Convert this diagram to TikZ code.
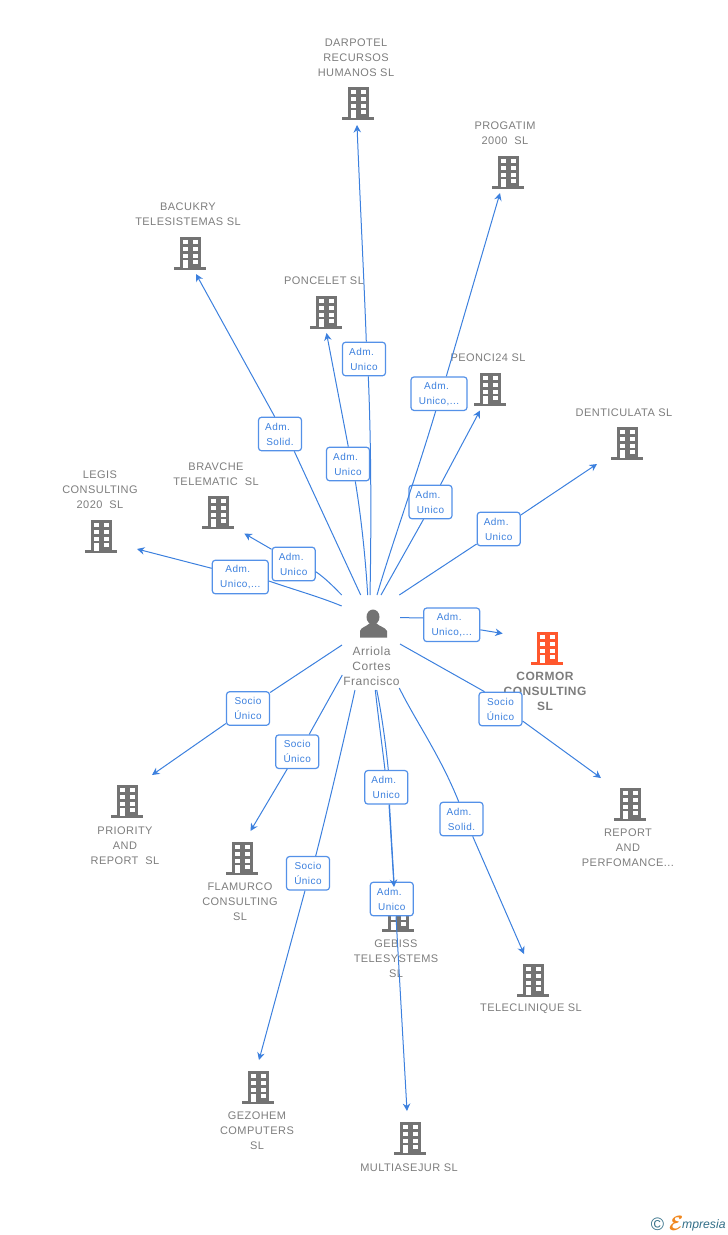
\documentclass[tikz,border=0pt]{standalone}
\usepackage{fontspec}
\setmainfont{Liberation Sans}
\usetikzlibrary{arrows.meta}
\definecolor{linkblue}{RGB}{60,128,222}
\definecolor{boxblue}{RGB}{84,145,232}
\definecolor{icongray}{RGB}{115,115,115}
\definecolor{namegray}{RGB}{125,125,125}
\definecolor{cormorred}{RGB}{255,87,45}
\definecolor{logoteal}{RGB}{50,110,135}
\definecolor{logoorange}{RGB}{240,135,30}
\newcommand{\admline}{\mbox{Adm.\hspace{5pt}}}
\tikzset{
	namelabel/.style={text=namegray, align=center, inner sep=0pt, font=\fontsize{11}{15}\selectfont\addfontfeature{LetterSpace=4}},
	relationbox/.style={rectangle, draw=boxblue, fill=white, line width=1.2pt, rounded corners=3pt, minimum width=43pt, minimum height=33.5pt, inner sep=0pt, align=center, text=linkblue, font=\fontsize{10}{15}\selectfont\addfontfeature{LetterSpace=4.5}},
	widebox/.style={relationbox, minimum width=56pt},
	linkline/.style={draw=linkblue, line width=1pt},
	linkarrow/.style={linkline, -{Stealth[length=7.5pt,width=7.5pt]}},
	buildingicon/.pic={
		\fill[#1] (-10.5,-15.5) rectangle (10.5,15.5);
		\fill[#1] (-16,15) rectangle (16,17.5);
		\fill[white] (-7.5,-12.5) rectangle (-2.5,-8.5);
		\fill[white] (2.5,-12.5) rectangle (7.5,-8.5);
		\fill[white] (-7.5,-5.5) rectangle (-2.5,-1.5);
		\fill[white] (2.5,-5.5) rectangle (7.5,-1.5);
		\fill[white] (-7.5,1.5) rectangle (-2.5,5.5);
		\fill[white] (2.5,1.5) rectangle (7.5,5.5);
		\fill[white] (-7.5,8) rectangle (-2.5,15.5);
		\fill[white] (2.5,8) rectangle (7.5,12);
	}
}

\begin{document}
\begin{tikzpicture}[x=1pt,y=-1pt]
			\useasboundingbox (0,0) rectangle (728,1235);
			% companies
			\pic at (358,102) {buildingicon=icongray};
			\node[namelabel] (darpotel) at (356,58) {DARPOTEL\\RECURSOS\\HUMANOS SL};
			\pic at (508,171) {buildingicon=icongray};
			\node[namelabel] (progatim) at (505,133.5) {PROGATIM\\2000\ \ SL};
			\pic at (190,252) {buildingicon=icongray};
			\node[namelabel] (bacukry) at (188,214.5) {BACUKRY\\TELESISTEMAS SL};
			\pic at (326,311) {buildingicon=icongray};
			\node[namelabel] (poncelet) at (324,281) {PONCELET SL};
			\pic at (490,388) {buildingicon=icongray};
			\node[namelabel] (peonci) at (488,358) {PEONCI24 SL};
			\pic at (627,442) {buildingicon=icongray};
			\node[namelabel] (denticulata) at (624,413) {DENTICULATA SL};
			\pic at (218,511) {buildingicon=icongray};
			\node[namelabel] (bravche) at (216,474.5) {BRAVCHE\\TELEMATIC\ \ SL};
			\pic at (101,535) {buildingicon=icongray};
			\node[namelabel] (legis) at (100,490) {LEGIS\\CONSULTING\\2020\ \ SL};
			\pic at (547,647) {buildingicon=cormorred};
			\node[namelabel, font=\fontsize{12}{15}\selectfont\bfseries\addfontfeature{LetterSpace=4}] (cormor) at (545,691) {CORMOR\\CONSULTING\\SL};
			\pic at (630,803) {buildingicon=icongray};
			\node[namelabel] (report) at (628,848) {REPORT\\AND\\PERFOMANCE...};
			\pic at (127,800) {buildingicon=icongray};
			\node[namelabel] (priority) at (125,846) {PRIORITY\\AND\\REPORT\ \ SL};
			\pic at (242,857) {buildingicon=icongray};
			\node[namelabel] (flamurco) at (240,902) {FLAMURCO\\CONSULTING\\SL};
			\pic at (398,914) {buildingicon=icongray};
			\node[namelabel] (gebiss) at (396,959) {GEBISS\\TELESYSTEMS\\SL};
			\pic at (533,979) {buildingicon=icongray};
			\node[namelabel] (teleclinique) at (531,1009) {TELECLINIQUE SL};
			\pic at (258,1086) {buildingicon=icongray};
			\node[namelabel] (gezohem) at (257,1131) {GEZOHEM\\COMPUTERS\\SL};
			\pic at (410,1137) {buildingicon=icongray};
			\node[namelabel] (multiasejur) at (409,1168) {MULTIASEJUR SL};

			% person
			\fill[icongray] (373,617) ellipse (6.5 and 7.5);
			\fill[icongray] (360,637.5) -- (360,631) .. controls (361,627) and (366,627) .. (370,623) -- (376,623) .. controls (380,627) and (385,627) .. (387,631) -- (387,637.5) -- cycle;
			\node[namelabel, font=\fontsize{12}{15}\selectfont\addfontfeature{LetterSpace=4.5}] (arriola) at (371.5,666.5) {Arriola\\Cortes\\Francisco};

			% relation boxes
			\node[relationbox] (boxdarpotel) at (364,359) {\admline\\Unico};
			\node[widebox] (boxprogatim) at (439,393.7) {\admline\\Unico,...};
			\node[relationbox] (boxbacukry) at (280,434) {\admline\\Solid.};
			\node[relationbox] (boxponcelet) at (348,464) {\admline\\Unico};
			\node[relationbox] (boxpeonci) at (430.5,502) {\admline\\Unico};
			\node[relationbox] (boxdenticulata) at (498.7,529) {\admline\\Unico};
			\node[relationbox] (boxbravche) at (293.7,564) {\admline\\Unico};
			\node[widebox] (boxlegis) at (240.3,577) {\admline\\Unico,...};
			\node[widebox] (boxcormor) at (451.7,624.8) {\admline\\Unico,...};
			\node[relationbox] (boxreport) at (500.5,709) {Socio\\Único};
			\node[relationbox] (boxpriority) at (248,708.5) {Socio\\Único};
			\node[relationbox] (boxflamurco) at (297.2,751.7) {Socio\\Único};
			\node[relationbox] (boxgezohem) at (308,873.3) {Socio\\Único};
			\node[relationbox] (boxgebiss) at (386.3,787.3) {\admline\\Unico};
			\node[relationbox] (boxmulti) at (391.8,899) {\admline\\Unico};
			\node[relationbox] (boxteleclinique) at (461.5,819) {\admline\\Solid.};

			% free ends of the connectors
			\coordinate (fromdarpotel) at (370,595);
			\coordinate (tipdarpotel) at (357,125);
			\coordinate (fromprogatim) at (377,595);
			\coordinate (tipprogatim) at (500,193);
			\coordinate (frombacukry) at (360.7,595);
			\coordinate (tipbacukry) at (196,274);
			\coordinate (fromponcelet) at (367.7,595);
			\coordinate (tipponcelet) at (326.5,333);
			\coordinate (frompeonci) at (381,595);
			\coordinate (tippeonci) at (480,410.5);
			\coordinate (fromdenticulata) at (399.3,595);
			\coordinate (tipdenticulata) at (597,464);
			\coordinate (frombravche) at (341.7,595);
			\coordinate (tipbravche) at (244.3,533.5);
			\coordinate (fromlegis) at (341.7,606);
			\coordinate (tiplegis) at (137,549);
			\coordinate (fromcormor) at (400,617.7);
			\coordinate (tipcormor) at (502.7,633.5);
			\coordinate (fromreport) at (400,644);
			\coordinate (tipreport) at (601,778);
			\coordinate (frompriority) at (342,645);
			\coordinate (tippriority) at (152,775);
			\coordinate (fromflamurco) at (342.3,675);
			\coordinate (tipflamurco) at (250.5,831);
			\coordinate (fromgezohem) at (355,690);
			\coordinate (tipgezohem) at (259,1060);
			\coordinate (fromgebiss) at (375.3,690);
			\coordinate (tipgebiss) at (394,887);
			\coordinate (frommulti) at (376.7,690);
			\coordinate (tipmulti) at (407,1111);
			\coordinate (fromteleclinique) at (399.3,688);
			\coordinate (tipteleclinique) at (524,954);

			% connectors
			\draw[linkline] (fromdarpotel) .. controls (371.5,520) and (371,440) .. ([xshift=4.3pt]boxdarpotel.south);
			\draw[linkarrow] ([xshift=2.3pt]boxdarpotel.north) .. controls (364.5,290) and (360,200) .. (tipdarpotel);
			\draw[linkline] (fromprogatim) .. controls (390,550) and (415,480) .. ([xshift=-3.3pt]boxprogatim.south);
			\draw[linkarrow] ([xshift=7.3pt]boxprogatim.north) -- (tipprogatim);
			\draw[linkline] (frombacukry) -- ([xshift=14.3pt]boxbacukry.south);
			\draw[linkarrow] ([xshift=-5.3pt]boxbacukry.north) -- (tipbacukry);
			\draw[linkline] (fromponcelet) .. controls (365,550) and (360,510) .. ([xshift=7.3pt]boxponcelet.south);
			\draw[linkarrow] ([xshift=0.3pt]boxponcelet.north) -- (tipponcelet);
			\draw[linkline] (frompeonci) -- ([xshift=-7pt]boxpeonci.south);
			\draw[linkarrow] ([xshift=10pt]boxpeonci.north) -- (tippeonci);
			\draw[linkline] (fromdenticulata) -- ([yshift=-15pt]boxdenticulata.west);
			\draw[linkarrow] ([yshift=14pt]boxdenticulata.east) -- (tipdenticulata);
			\draw[linkline] (frombravche) .. controls (333,586) and (325,578) .. ([yshift=-7.7pt]boxbravche.east);
			\draw[linkarrow] ([yshift=14.7pt]boxbravche.west) -- (tipbravche);
			\draw[linkline] (fromlegis) .. controls (320,597) and (295,590) .. ([yshift=-4pt]boxlegis.east);
			\draw[linkarrow] ([yshift=8.7pt]boxlegis.west) -- (tiplegis);
			\draw[linkline] (fromcormor) -- ([yshift=7pt]boxcormor.west);
			\draw[linkarrow] ([yshift=-5pt]boxcormor.east) -- (tipcormor);
			\draw[linkline] (fromreport) -- ([xshift=-16pt]boxreport.north);
			\draw[linkarrow] ([yshift=-12pt]boxreport.east) -- (tipreport);
			\draw[linkline] (frompriority) -- ([yshift=16pt]boxpriority.east);
			\draw[linkarrow] ([yshift=-15pt]boxpriority.west) -- (tippriority);
			\draw[linkline] (fromflamurco) -- ([xshift=12pt]boxflamurco.north);
			\draw[linkarrow] ([xshift=-10pt]boxflamurco.south) -- (tipflamurco);
			\draw[linkline] (fromgezohem) .. controls (345,735) and (330,800) .. ([xshift=7.7pt]boxgezohem.north);
			\draw[linkarrow] ([xshift=-3pt]boxgezohem.south) -- (tipgezohem);
			\draw[linkline] (fromgebiss) .. controls (378,715) and (382,745) .. ([xshift=-1.3pt]boxgebiss.north);
			\draw[linkarrow] ([xshift=2.7pt]boxgebiss.south) -- (tipgebiss);
			\draw[linkline] (frommulti) .. controls (381,710) and (386,745) .. ([xshift=2pt]boxgebiss.north);
			\draw[linkline] ([xshift=3.2pt]boxgebiss.south) -- ([xshift=2.2pt]boxmulti.north);
			\draw[linkarrow] ([xshift=4.2pt]boxmulti.south) -- (tipmulti);
			\draw[linkline] (fromteleclinique) .. controls (415,720) and (440,755) .. ([xshift=-2.8pt]boxteleclinique.north);
			\draw[linkarrow] ([xshift=11.2pt]boxteleclinique.south) -- (tipteleclinique);

			% logo
			\node[inner sep=0pt, text=logoteal, font=\fontsize{18}{18}\selectfont] (logocopy) at (657.5,1224) {\textcopyright};
			\node[inner sep=0pt, anchor=base west, text=logoorange, font=\fontsize{22}{22}\selectfont\boldmath] (logoe) at (669,1230) {$\mathcal{E}$};
			\node[inner sep=0pt, anchor=base west, text=logoteal, font=\fontsize{12.2}{13}\selectfont\itshape] (logotext) at (682,1228) {mpresia};
		\end{tikzpicture}
\end{document}
